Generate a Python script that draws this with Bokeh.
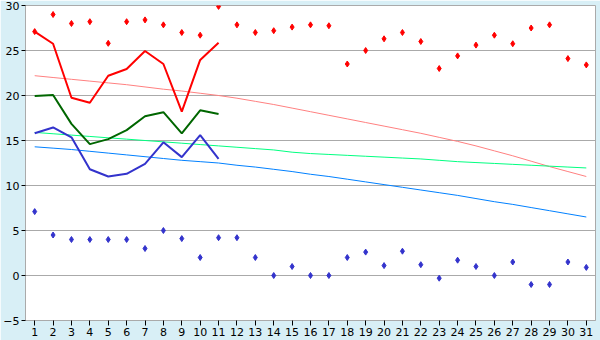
from bokeh.plotting import figure
from bokeh.models import Range1d, FixedTicker
from bokeh.embed import file_html
from bokeh.resources import INLINE

days = list(range(1, 32))
days_cur = list(range(1, 12))

record_max = [27.1, 29.0, 28.0, 28.2, 25.8, 28.2, 28.4, 27.85, 27.0, 26.7, 29.9,
              27.85, 27.0, 27.2, 27.6, 27.85, 27.75, 23.5, 25.0, 26.3, 27.0,
              26.0, 23.0, 24.4, 25.6, 26.7, 25.75, 27.5, 27.85, 24.1, 23.4]
record_min = [7.1, 4.5, 4.0, 4.0, 4.0, 4.0, 3.0, 5.0, 4.1, 2.0, 4.2,
              4.2, 2.0, 0.0, 1.0, 0.0, 0.0, 2.0, 2.6, 1.1, 2.7,
              1.2, -0.3, 1.7, 1.0, 0.0, 1.5, -1.0, -1.0, 1.5, 0.9]
cur_max = [27.1, 25.75, 19.75, 19.2, 22.2, 22.95, 24.95, 23.5, 18.2, 23.95, 25.85]
cur_mean = [19.95, 20.05, 16.85, 14.6, 15.15, 16.15, 17.7, 18.15, 15.8, 18.35, 17.95]
cur_min = [15.8, 16.45, 15.35, 11.8, 11.0, 11.3, 12.4, 14.8, 13.15, 15.6, 12.95]
norm_max = [22.2, 22.0, 21.8, 21.6, 21.4, 21.2, 20.95, 20.7, 20.5, 20.25, 20.0,
            19.7, 19.35, 19.0, 18.6, 18.2, 17.8, 17.4, 17.0, 16.6, 16.2,
            15.8, 15.35, 14.9, 14.4, 13.85, 13.3, 12.7, 12.1, 11.55, 11.0]
norm_mean = [15.9, 15.75, 15.6, 15.45, 15.3, 15.15, 15.0, 14.85, 14.7, 14.55, 14.4,
             14.25, 14.1, 13.95, 13.7, 13.55, 13.45, 13.35, 13.25, 13.15, 13.05,
             12.95, 12.8, 12.65, 12.55, 12.45, 12.35, 12.25, 12.15, 12.05, 11.95]
norm_min = [14.3, 14.15, 14.0, 13.8, 13.6, 13.4, 13.2, 13.0, 12.8, 12.65, 12.5,
            12.25, 12.05, 11.8, 11.55, 11.25, 11.0, 10.7, 10.4, 10.1, 9.8,
            9.5, 9.2, 8.9, 8.55, 8.2, 7.9, 7.55, 7.2, 6.85, 6.5]
y_ticks = [-5, 0, 5, 10, 15, 20, 25, 30]

BG = "#D8EFF6"
GRID = "#AAAAAA"

p = figure(width=600, height=340, output_backend="svg", toolbar_location=None,
           x_range=Range1d(0.5, 31.5), y_range=Range1d(-5, 30),
           min_border_left=21, min_border_right=5, min_border_top=5, min_border_bottom=20)
p.background_fill_color = "white"
p.border_fill_color = BG
p.outline_line_color = GRID
p.outline_line_width = 1

p.xaxis.ticker = FixedTicker(ticks=days)
p.yaxis.ticker = FixedTicker(ticks=y_ticks)
p.xgrid.grid_line_color = None
p.ygrid.grid_line_color = GRID
p.ygrid.grid_line_width = 1

for ax in (p.xaxis, p.yaxis):
    ax.axis_line_color = GRID
    ax.major_tick_line_color = "black"
    ax.minor_tick_line_color = None
    ax.major_tick_in = 0
    ax.major_tick_out = 4
    ax.major_label_text_font = "DejaVu Sans"
    ax.major_label_text_font_size = "11px"
    ax.major_label_text_color = "black"
    ax.major_label_standoff = 2
p.xaxis.major_tick_out = 5

p.line(days, norm_max, line_color="#FF8080", line_width=1)
p.line(days, norm_mean, line_color="#00FF80", line_width=1)
p.line(days, norm_min, line_color="#0080FF", line_width=1)

p.line(days_cur, cur_max, line_color="#FF0000", line_width=2)
p.line(days_cur, cur_mean, line_color="#006600", line_width=2)
p.line(days_cur, cur_min, line_color="#3333CC", line_width=2)

p.scatter(days, record_max, marker="diamond", size=6, fill_color="#FF0000", line_color="#FF0000")
p.scatter(days, record_min, marker="diamond", size=6, fill_color="#3333CC", line_color="#3333CC")

open("out.html", "w").write(file_html(p, INLINE))
